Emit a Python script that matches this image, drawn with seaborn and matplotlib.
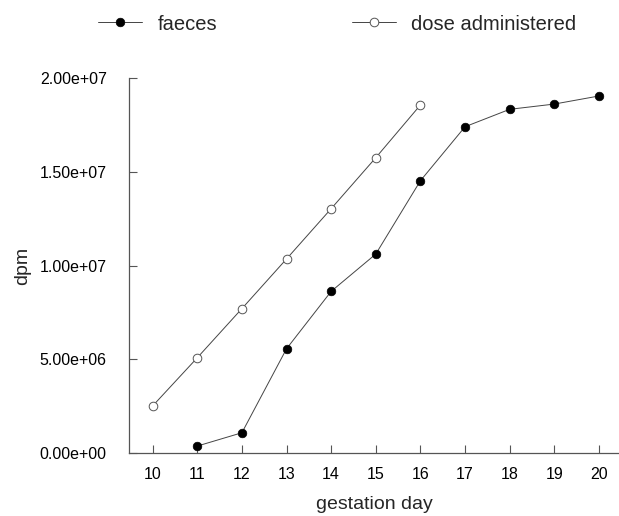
import matplotlib
matplotlib.use("Agg")
import matplotlib.pyplot as plt
import matplotlib.ticker as mticker
import seaborn as sns
import pandas as pd

faeces_days = [11, 12, 13, 14, 15, 16, 17, 18, 19, 20]
faeces_dpm = [0.37e6, 1.08e6, 5.56e6, 8.62e6, 10.61e6, 14.52e6, 17.40e6, 18.33e6, 18.61e6, 19.04e6]
dose_days = [10, 11, 12, 13, 14, 15, 16]
dose_dpm = [2.51e6, 5.08e6, 7.70e6, 10.35e6, 13.03e6, 15.75e6, 18.56e6]
x_ticks = [10, 11, 12, 13, 14, 15, 16, 17, 18, 19, 20]
y_ticks = [0, 5e6, 1e7, 1.5e7, 2e7]

sns.set_theme(style="ticks")
plt.rcParams['font.family'] = ['Liberation Sans', 'DejaVu Sans']

fig = plt.figure(figsize=(6.19, 5.16), dpi=100)
ax = fig.add_axes([129/619, 1-453/516, 490/619, 375/516])

df_f = pd.DataFrame({"day": faeces_days, "dpm": faeces_dpm})
df_d = pd.DataFrame({"day": dose_days, "dpm": dose_dpm})

line_col = "#444444"
sns.lineplot(data=df_f, x="day", y="dpm", ax=ax, color=line_col, lw=0.7,
             marker="o", markersize=6.2, markerfacecolor="black",
             markeredgecolor="black", markeredgewidth=0.5, label="faeces", legend=False)
sns.lineplot(data=df_d, x="day", y="dpm", ax=ax, color=line_col, lw=0.7,
             marker="o", markersize=6.2, markerfacecolor="white",
             markeredgecolor="#555555", markeredgewidth=0.7, label="dose administered", legend=False)

ax.set_xlim(9.47, 20.45)
ax.set_ylim(0, 2e7)
ax.set_xticks(x_ticks)
ax.set_yticks(y_ticks)
ax.yaxis.set_major_formatter(mticker.FormatStrFormatter('%.2e'))
ax.tick_params(axis='both', direction='in', length=6, width=0.8, color='#555555',
               labelsize=11.5, labelcolor='black')
ax.tick_params(axis='y', pad=16)
ax.tick_params(axis='x', pad=10)
for s in ['top', 'right']:
    ax.spines[s].set_visible(False)
for s in ['left', 'bottom']:
    ax.spines[s].set_color('#555555')
    ax.spines[s].set_linewidth(0.9)

ax.set_xlabel("gestation day", fontsize=14, labelpad=10)
ax.set_ylabel("dpm", fontsize=14, labelpad=6)

handles, labels = ax.get_legend_handles_labels()
fig.legend(handles, labels, loc='center left', bbox_to_anchor=(98/619, 1-24/516),
           ncol=2, frameon=False, fontsize=14.5, handlelength=2.2, handletextpad=0.75,
           columnspacing=6.7, borderpad=0, borderaxespad=0)

fig.savefig("out.png", dpi=100)
